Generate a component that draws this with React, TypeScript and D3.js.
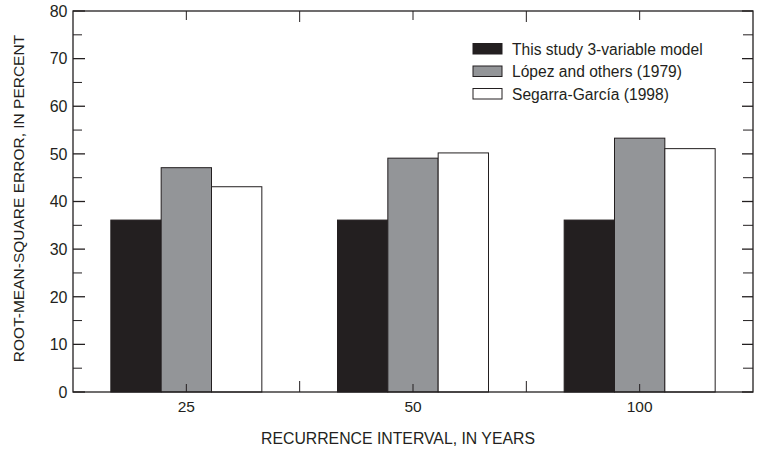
import React from "react";
import * as d3 from "d3";

const categories = ["25", "50", "100"];
const categoryPositions = [1, 3, 5];
const dividerPositions = [2, 4];
const seriesNames = ["This study 3-variable model", "López and others (1979)", "Segarra-García (1998)"];
const thisStudy = [36.1, 36.1, 36.1];
const lopez = [47.1, 49.1, 53.3];
const segarra = [43.1, 50.2, 51.1];
const yMajorTicks = [0, 10, 20, 30, 40, 50, 60, 70, 80];
const yMinorTicks = [5, 15, 25, 35, 45, 55, 65, 75];

const fills = ["#231f20", "#939598", "#ffffff"];
const ink = "#231f20";
const font = "'Liberation Sans', Arial, Helvetica, sans-serif";

export default function App() {
  const W = 763, H = 453;
  const left = 73, right = 753, top = 11, bottom = 392;
  const x = d3.scaleLinear().domain([0, 6]).range([left, right]);
  const y = d3.scaleLinear().domain([0, 80]).range([bottom, top]);
  const inner = d3.scaleBand<number>().domain([0, 1, 2]).range([-75.5, 75.5]);
  const series = [thisStudy, lopez, segarra];

  return (
    <svg width={W} height={H} style={{ position: "absolute", left: 0, top: 0 }} fontFamily={font}>
      <rect width={W} height={H} fill="#fff" />
      {/* bars */}
      {categories.map((c, ci) =>
        series.map((s, si) => {
          const x0 = x(categoryPositions[ci]) + (inner(si) as number);
          return (
            <rect
              key={c + si}
              x={x0}
              y={y(s[ci])}
              width={inner.bandwidth()}
              height={y(0) - y(s[ci])}
              fill={fills[si]}
              stroke={ink}
              strokeWidth={1}
            />
          );
        })
      )}
      {/* frame */}
      <rect x={left} y={top} width={right - left} height={bottom - top} fill="none" stroke={ink} strokeWidth={1.3} />
      {/* y ticks */}
      {yMajorTicks.map((t) => (
        <g key={"ym" + t}>
          <line x1={left} x2={left + 12} y1={y(t)} y2={y(t)} stroke={ink} strokeWidth={1.3} />
          <line x1={right} x2={right - 11} y1={y(t)} y2={y(t)} stroke={ink} strokeWidth={1.3} />
          <text x={left - 5.5} y={y(t)} dy="0.36em" textAnchor="end" fontSize={16} fill={ink}>
            {t}
          </text>
        </g>
      ))}
      {yMinorTicks.map((t) => (
        <g key={"yn" + t}>
          <line x1={left} x2={left + 9} y1={y(t)} y2={y(t)} stroke={ink} strokeWidth={1} />
          <line x1={right} x2={right - 10} y1={y(t)} y2={y(t)} stroke={ink} strokeWidth={1} />
        </g>
      ))}
      {/* x ticks */}
      {categoryPositions.map((p, i) => (
        <g key={"xc" + p}>
          <line x1={x(p)} x2={x(p)} y1={bottom} y2={bottom - 8} stroke={ink} strokeWidth={1} />
          <line x1={x(p)} x2={x(p)} y1={top} y2={top + 9} stroke={ink} strokeWidth={1} />
          <text x={x(p)} y={406} dy="0.36em" textAnchor="middle" fontSize={15.5} fill={ink}>
            {categories[i]}
          </text>
        </g>
      ))}
      {dividerPositions.map((p) => (
        <g key={"xd" + p}>
          <line x1={x(p)} x2={x(p)} y1={bottom} y2={bottom - 11} stroke={ink} strokeWidth={1} />
          <line x1={x(p)} x2={x(p)} y1={top} y2={top + 11} stroke={ink} strokeWidth={1} />
        </g>
      ))}
      {/* axis titles */}
      <text x={398} y={438} dy="0.36em" textAnchor="middle" fontSize={15.8} fill={ink}>
        RECURRENCE INTERVAL, IN YEARS
      </text>
      <text
        transform={`translate(18.5,198.5) rotate(-90)`}
        dy="0.36em"
        textAnchor="middle"
        fontSize={15.5}
        fill={ink}
      >
        ROOT-MEAN-SQUARE ERROR, IN PERCENT
      </text>
      {/* legend */}
      {seriesNames.map((n, i) => (
        <g key={n} transform={`translate(473,${43.5 + i * 22.5})`}>
          <rect x={0} y={0} width={29} height={10.5} fill={fills[i]} stroke={ink} strokeWidth={1} />
          <text x={39} y={5.5} dy="0.36em" fontSize={15.6} fill={ink}>
            {n}
          </text>
        </g>
      ))}
    </svg>
  );
}
